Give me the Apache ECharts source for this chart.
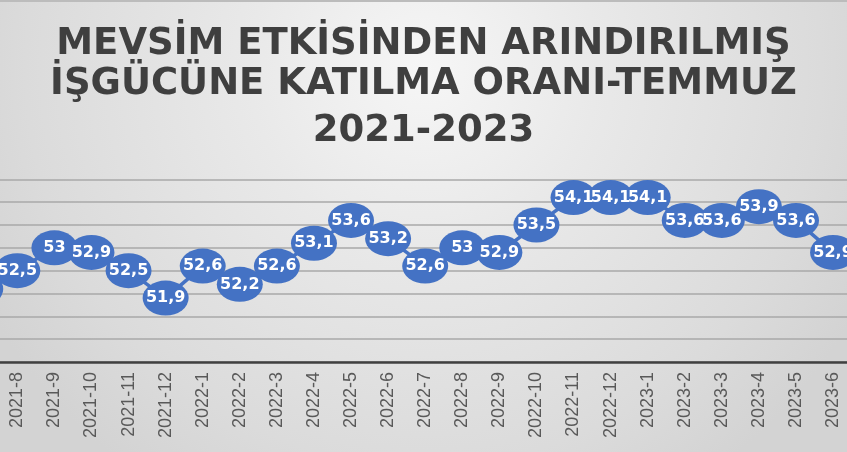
<!DOCTYPE html>
<html>
<head>
<meta charset="utf-8">
<script src="https://cdn.jsdelivr.net/npm/echarts@6/dist/echarts.min.js"></script>
<style>
  html, body { margin: 0; padding: 0; }
  #chart { width: 847px; height: 452px; }
</style>
</head>
<body>
<div id="chart"></div>
<script>
// aylar (2021-7 ve 2023-7 kenarlarda kesik)
const months = [
  '2021-7', '2021-8', '2021-9', '2021-10', '2021-11', '2021-12',
  '2022-1', '2022-2', '2022-3', '2022-4', '2022-5', '2022-6',
  '2022-7', '2022-8', '2022-9', '2022-10', '2022-11', '2022-12',
  '2023-1', '2023-2', '2023-3', '2023-4', '2023-5', '2023-6', '2023-7'
]
// işgücüne katılma oranı (%)
const rates = [
  52.1, 52.5, 53, 52.9, 52.5, 51.9,
  52.6, 52.2, 52.6, 53.1, 53.6, 53.2,
  52.6, 53, 52.9, 53.5, 54.1, 54.1,
  54.1, 53.6, 53.6, 53.9, 53.6, 52.9, 53.4
]
const titleLines = ['MEVSİM ETKİSİNDEN ARINDIRILMIŞ', 'İŞGÜCÜNE KATILMA ORANI-TEMMUZ', '2021-2023']
const titleTops = [26, 66, 113]

const blue = '#4472C4'
const chart = echarts.init(document.getElementById('chart'))
chart.setOption({
  animation: false,
  backgroundColor: new echarts.graphic.RadialGradient(0.5, 0.15, 1.1, [
    { offset: 0, color: '#f6f6f6' },
    { offset: 0.35, color: '#e9e9e9' },
    { offset: 0.8, color: '#dbdbdb' },
    { offset: 1, color: '#d3d3d3' }
  ]),
  title: titleLines.map((t, i) => ({
    text: t,
    left: 'center',
    top: titleTops[i],
    padding: 0,
    textStyle: {
      fontFamily: 'DejaVu Sans',
      fontWeight: 'bold',
      fontSize: 37,
      lineHeight: 37,
      color: '#3f3f3f'
    }
  })),
  graphic: [{
    type: 'rect',
    left: 0,
    top: 0,
    shape: { width: 847, height: 2 },
    style: { fill: '#bcbcbc' }
  }],
  grid: {
    left: -38.3,
    right: -41.7,
    top: 179.3,
    bottom: 90,
    outerBoundsMode: 'none'
  },
  xAxis: {
    type: 'category',
    data: months,
    boundaryGap: true,
    axisLine: { lineStyle: { color: '#404040', width: 2.5 } },
    axisTick: { show: false },
    axisLabel: {
      interval: 0,
      rotate: 90,
      margin: 10,
      color: '#595959',
      fontFamily: 'Liberation Sans',
      fontSize: 18
    }
  },
  yAxis: {
    type: 'value',
    min: 50.5,
    max: 54.5,
    interval: 0.5,
    axisLabel: { show: false },
    axisLine: { show: false },
    axisTick: { show: false },
    splitLine: { lineStyle: { color: '#a8a8a8', width: 1.5 } }
  },
  series: [{
    type: 'line',
    data: rates,
    clip: false,
    symbol: 'path://M0,50 A50,50 0 1,1 100,50 A50,50 0 1,1 0,50 Z',
    symbolSize: [46, 35],
    itemStyle: { color: blue },
    lineStyle: { color: blue, width: 3.5 },
    label: {
      show: true,
      position: 'inside',
      color: '#fff',
      fontFamily: 'DejaVu Sans',
      fontWeight: 'bold',
      fontSize: 16,
      formatter: p => String(p.value).replace('.', ',')
    }
  }]
})
</script>
</body>
</html>
